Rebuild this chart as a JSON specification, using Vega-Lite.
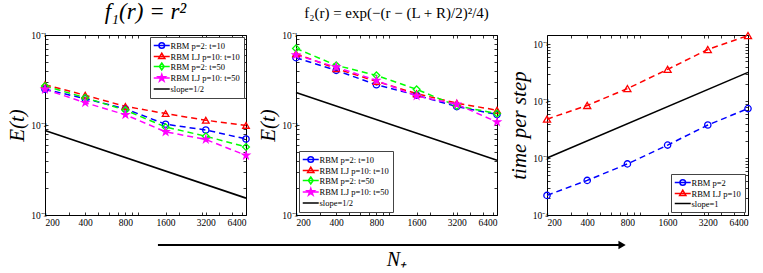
{
  "$schema": "https://vega.github.io/schema/vega-lite/v6.json",
  "padding": {"left": 6, "top": 0, "right": 0, "bottom": 0},
  "datasets": {
    "p1": [
      {"series": "RBM p=2: t=10", "N": 200, "E": 0.025}, {"series": "RBM p=2: t=10", "N": 400, "E": 0.0196}, {"series": "RBM p=2: t=10", "N": 800, "E": 0.0151}, {"series": "RBM p=2: t=10", "N": 1600, "E": 0.0102}, {"series": "RBM p=2: t=10", "N": 3200, "E": 0.0088}, {"series": "RBM p=2: t=10", "N": 6400, "E": 0.007},
      {"series": "RBM LJ p=10: t=10", "N": 200, "E": 0.028}, {"series": "RBM LJ p=10: t=10", "N": 400, "E": 0.0214}, {"series": "RBM LJ p=10: t=10", "N": 800, "E": 0.0161}, {"series": "RBM LJ p=10: t=10", "N": 1600, "E": 0.0134}, {"series": "RBM LJ p=10: t=10", "N": 3200, "E": 0.0113}, {"series": "RBM LJ p=10: t=10", "N": 6400, "E": 0.0099},
      {"series": "RBM p=2: t=50", "N": 200, "E": 0.0271}, {"series": "RBM p=2: t=50", "N": 400, "E": 0.0201}, {"series": "RBM p=2: t=50", "N": 800, "E": 0.0146}, {"series": "RBM p=2: t=50", "N": 1600, "E": 0.0095}, {"series": "RBM p=2: t=50", "N": 3200, "E": 0.0075}, {"series": "RBM p=2: t=50", "N": 6400, "E": 0.0057},
      {"series": "RBM LJ p=10: t=50", "N": 200, "E": 0.0249}, {"series": "RBM LJ p=10: t=50", "N": 400, "E": 0.0177}, {"series": "RBM LJ p=10: t=50", "N": 800, "E": 0.013}, {"series": "RBM LJ p=10: t=50", "N": 1600, "E": 0.0084}, {"series": "RBM LJ p=10: t=50", "N": 3200, "E": 0.0069}, {"series": "RBM LJ p=10: t=50", "N": 6400, "E": 0.0046},
      {"series": "slope=1/2", "N": 200, "E": 0.0087}, {"series": "slope=1/2", "N": 6400, "E": 0.00154}
    ],
    "p2": [
      {"series": "RBM p=2: t=10", "N": 200, "E": 0.056}, {"series": "RBM p=2: t=10", "N": 400, "E": 0.0405}, {"series": "RBM p=2: t=10", "N": 800, "E": 0.028}, {"series": "RBM p=2: t=10", "N": 1600, "E": 0.0214}, {"series": "RBM p=2: t=10", "N": 3200, "E": 0.016}, {"series": "RBM p=2: t=10", "N": 6400, "E": 0.0131},
      {"series": "RBM LJ p=10: t=10", "N": 200, "E": 0.062}, {"series": "RBM LJ p=10: t=10", "N": 400, "E": 0.0423}, {"series": "RBM LJ p=10: t=10", "N": 800, "E": 0.0305}, {"series": "RBM LJ p=10: t=10", "N": 1600, "E": 0.0223}, {"series": "RBM LJ p=10: t=10", "N": 3200, "E": 0.0175}, {"series": "RBM LJ p=10: t=10", "N": 6400, "E": 0.0146},
      {"series": "RBM p=2: t=50", "N": 200, "E": 0.071}, {"series": "RBM p=2: t=50", "N": 400, "E": 0.046}, {"series": "RBM p=2: t=50", "N": 800, "E": 0.0356}, {"series": "RBM p=2: t=50", "N": 1600, "E": 0.0249}, {"series": "RBM p=2: t=50", "N": 3200, "E": 0.0163}, {"series": "RBM p=2: t=50", "N": 6400, "E": 0.0134},
      {"series": "RBM LJ p=10: t=50", "N": 200, "E": 0.06}, {"series": "RBM LJ p=10: t=50", "N": 400, "E": 0.044}, {"series": "RBM LJ p=10: t=50", "N": 800, "E": 0.0313}, {"series": "RBM LJ p=10: t=50", "N": 1600, "E": 0.021}, {"series": "RBM LJ p=10: t=50", "N": 3200, "E": 0.017}, {"series": "RBM LJ p=10: t=50", "N": 6400, "E": 0.0108},
      {"series": "slope=1/2", "N": 200, "E": 0.023}, {"series": "slope=1/2", "N": 6400, "E": 0.00405}
    ],
    "p3": [
      {"series": "RBM p=2", "N": 200, "E": 0.000221}, {"series": "RBM p=2", "N": 400, "E": 0.000405}, {"series": "RBM p=2", "N": 800, "E": 0.00079}, {"series": "RBM p=2", "N": 1600, "E": 0.00169}, {"series": "RBM p=2", "N": 3200, "E": 0.0038}, {"series": "RBM p=2", "N": 6400, "E": 0.0074},
      {"series": "RBM LJ p=10", "N": 200, "E": 0.00483}, {"series": "RBM LJ p=10", "N": 400, "E": 0.0084}, {"series": "RBM LJ p=10", "N": 800, "E": 0.0166}, {"series": "RBM LJ p=10", "N": 1600, "E": 0.0361}, {"series": "RBM LJ p=10", "N": 3200, "E": 0.0807}, {"series": "RBM LJ p=10", "N": 6400, "E": 0.142},
      {"series": "slope=1", "N": 200, "E": 0.001}, {"series": "slope=1", "N": 6400, "E": 0.032}
    ]
  },
  "hconcat": [
    {
      "width": 201, "height": 180,
      "title": {"text": "f₁(r) = r²", "font": "Liberation Serif", "fontStyle": "italic", "fontWeight": "normal", "fontSize": 23, "offset": 6, "anchor": "middle", "frame": "group", "color": "black"},
      "data": {"name": "p1"},
      "resolve": {"axis": {"x": "independent", "y": "independent"}},
      "layer": [
        {
          "transform": [{"filter": "datum.series != 'slope=1/2'"}],
          "mark": {"type": "line", "strokeWidth": 1.5, "strokeDash": [6, 4]},
          "encoding": {
            "x": {"field": "N", "type": "quantitative", "scale": {"type": "log", "domain": [200, 6400], "nice": false}, "axis": {"orient": "bottom", "title": null, "labelPadding": 5, "values": [200, 300, 400, 500, 600, 700, 800, 900, 1000, 1600, 2000, 3000, 3200, 4000, 5000, 6000, 6400], "labelExpr": "indexof([200,400,800,1600,3200,6400], datum.value) >= 0 ? format(datum.value, 'd') : ''"}},
            "y": {"field": "E", "type": "quantitative", "scale": {"type": "log", "domain": [0.001, 0.1], "nice": false}, "axis": {"orient": "left", "title": "E(t)", "titlePadding": 3, "values": [0.001, 0.002, 0.003, 0.004, 0.005, 0.006, 0.007, 0.008, 0.009, 0.01, 0.02, 0.03, 0.04, 0.05, 0.06, 0.07, 0.08, 0.09, 0.1], "labelExpr": "datum.value == 0.1 ? '10⁻¹' : datum.value == 0.01 ? '10⁻²' : datum.value == 0.001 ? '10⁻³' : ''"}},
            "color": {"field": "series", "type": "nominal", "scale": {"domain": ["RBM p=2: t=10", "RBM LJ p=10: t=10", "RBM p=2: t=50", "RBM LJ p=10: t=50", "slope=1/2"], "range": ["#0000ff", "#ff0000", "#00ff00", "#ff00ff", "#000000"]},
              "legend": {"title": null, "orient": "top-right", "offset": 2,
                "encode": {"symbols": {"update": {
                  "shape": {"signal": "['M-1.36,0L3.21,0M1.729,0A0.8,0.8,0,1,1,0.129,0A0.8,0.8,0,1,1,1.729,0Z', 'M-1.36,0L3.21,0M0.929,-0.95L1.829,0.6L0.029,0.6Z', 'M-1.36,0L3.21,0M0.929,-1L1.629,0L0.929,1L0.229,0Z', 'M-1.36,0L3.21,0M0.929,-1.05L1.164,-0.324L1.928,-0.324L1.309,0.124L1.546,0.849L0.929,0.4L0.312,0.849L0.549,0.124L-0.07,-0.324L0.694,-0.324Z', 'M-1.36,0L3.21,0'][datum.index]"},
                  "fill": {"signal": "datum.index == 3 ? '#ff00ff' : 'transparent'"},
                  "strokeWidth": {"value": 1.5},
                  "strokeDash": {"value": []}
                }}}}}
          }
        },
        {
          "transform": [{"filter": "datum.series != 'slope=1/2'"}],
          "mark": {"type": "point", "filled": false, "strokeWidth": 1.3, "opacity": 1},
          "encoding": {
            "x": {"field": "N", "type": "quantitative", "axis": null},
            "y": {"field": "E", "type": "quantitative", "axis": null},
            "color": {"field": "series", "type": "nominal"},
            "shape": {"field": "series", "type": "nominal", "scale": {"domain": ["RBM p=2: t=10", "RBM LJ p=10: t=10", "RBM p=2: t=50", "RBM LJ p=10: t=50"], "range": ["circle", "triangle-up", "diamond", "M0,-1L0.223,-0.307L0.951,-0.309L0.361,0.117L0.588,0.809L0,0.38L-0.588,0.809L-0.361,0.117L-0.951,-0.309L-0.223,-0.307Z"]}, "legend": null},
            "fill": {"field": "series", "type": "nominal", "scale": {"domain": ["RBM p=2: t=10", "RBM LJ p=10: t=10", "RBM p=2: t=50", "RBM LJ p=10: t=50"], "range": ["transparent", "transparent", "transparent", "#ff00ff"]}, "legend": null},
            "size": {"field": "series", "type": "nominal", "scale": {"domain": ["RBM p=2: t=10", "RBM LJ p=10: t=10", "RBM p=2: t=50", "RBM LJ p=10: t=50"], "range": [40, 50, 45, 110]}, "legend": null}
          }
        },
        {
          "transform": [{"filter": "datum.series == 'slope=1/2'"}],
          "mark": {"type": "line", "strokeWidth": 1.6},
          "encoding": {
            "x": {"field": "N", "type": "quantitative", "axis": {"orient": "top", "labels": false, "title": null, "values": [200, 300, 400, 500, 600, 700, 800, 900, 1000, 1600, 2000, 3000, 3200, 4000, 5000, 6000, 6400]}},
            "y": {"field": "E", "type": "quantitative", "axis": {"orient": "right", "labels": false, "title": null, "values": [0.001, 0.002, 0.003, 0.004, 0.005, 0.006, 0.007, 0.008, 0.009, 0.01, 0.02, 0.03, 0.04, 0.05, 0.06, 0.07, 0.08, 0.09, 0.1]}},
            "color": {"field": "series", "type": "nominal"}
          }
        }
      ]
    },
    {
      "width": 201, "height": 180,
      "title": {"text": "f₂(r) = exp(−(r − (L + R)/2)²/4)", "font": "Liberation Serif", "fontStyle": "normal", "fontWeight": "normal", "fontSize": 15, "offset": 9, "anchor": "middle", "frame": "group", "color": "black"},
      "data": {"name": "p2"},
      "resolve": {"axis": {"x": "independent", "y": "independent"}},
      "layer": [
        {
          "transform": [{"filter": "datum.series != 'slope=1/2'"}],
          "mark": {"type": "line", "strokeWidth": 1.5, "strokeDash": [6, 4]},
          "encoding": {
            "x": {"field": "N", "type": "quantitative", "scale": {"type": "log", "domain": [200, 6400], "nice": false}, "axis": {"orient": "bottom", "title": "N₊", "titleFontSize": 20, "titlePadding": 23, "labelPadding": 5, "values": [200, 300, 400, 500, 600, 700, 800, 900, 1000, 1600, 2000, 3000, 3200, 4000, 5000, 6000, 6400], "labelExpr": "indexof([200,400,800,1600,3200,6400], datum.value) >= 0 ? format(datum.value, 'd') : ''"}},
            "y": {"field": "E", "type": "quantitative", "scale": {"type": "log", "domain": [0.001, 0.1], "nice": false}, "axis": {"orient": "left", "title": "E(t)", "titlePadding": 3, "values": [0.001, 0.002, 0.003, 0.004, 0.005, 0.006, 0.007, 0.008, 0.009, 0.01, 0.02, 0.03, 0.04, 0.05, 0.06, 0.07, 0.08, 0.09, 0.1], "labelExpr": "datum.value == 0.1 ? '10⁻¹' : datum.value == 0.01 ? '10⁻²' : datum.value == 0.001 ? '10⁻³' : ''"}},
            "color": {"field": "series", "type": "nominal", "scale": {"domain": ["RBM p=2: t=10", "RBM LJ p=10: t=10", "RBM p=2: t=50", "RBM LJ p=10: t=50", "slope=1/2"], "range": ["#0000ff", "#ff0000", "#00ff00", "#ff00ff", "#000000"]},
              "legend": {"title": null, "orient": "bottom-left", "offset": 3,
                "encode": {"symbols": {"update": {
                  "shape": {"signal": "['M-1.36,0L3.21,0M1.729,0A0.8,0.8,0,1,1,0.129,0A0.8,0.8,0,1,1,1.729,0Z', 'M-1.36,0L3.21,0M0.929,-0.95L1.829,0.6L0.029,0.6Z', 'M-1.36,0L3.21,0M0.929,-1L1.629,0L0.929,1L0.229,0Z', 'M-1.36,0L3.21,0M0.929,-1.05L1.164,-0.324L1.928,-0.324L1.309,0.124L1.546,0.849L0.929,0.4L0.312,0.849L0.549,0.124L-0.07,-0.324L0.694,-0.324Z', 'M-1.36,0L3.21,0'][datum.index]"},
                  "fill": {"signal": "datum.index == 3 ? '#ff00ff' : 'transparent'"},
                  "strokeWidth": {"value": 1.5},
                  "strokeDash": {"value": []}
                }}}}}
          }
        },
        {
          "transform": [{"filter": "datum.series != 'slope=1/2'"}],
          "mark": {"type": "point", "filled": false, "strokeWidth": 1.3, "opacity": 1},
          "encoding": {
            "x": {"field": "N", "type": "quantitative", "axis": null},
            "y": {"field": "E", "type": "quantitative", "axis": null},
            "color": {"field": "series", "type": "nominal"},
            "shape": {"field": "series", "type": "nominal", "scale": {"domain": ["RBM p=2: t=10", "RBM LJ p=10: t=10", "RBM p=2: t=50", "RBM LJ p=10: t=50"], "range": ["circle", "triangle-up", "diamond", "M0,-1L0.223,-0.307L0.951,-0.309L0.361,0.117L0.588,0.809L0,0.38L-0.588,0.809L-0.361,0.117L-0.951,-0.309L-0.223,-0.307Z"]}, "legend": null},
            "fill": {"field": "series", "type": "nominal", "scale": {"domain": ["RBM p=2: t=10", "RBM LJ p=10: t=10", "RBM p=2: t=50", "RBM LJ p=10: t=50"], "range": ["transparent", "transparent", "transparent", "#ff00ff"]}, "legend": null},
            "size": {"field": "series", "type": "nominal", "scale": {"domain": ["RBM p=2: t=10", "RBM LJ p=10: t=10", "RBM p=2: t=50", "RBM LJ p=10: t=50"], "range": [40, 50, 45, 110]}, "legend": null}
          }
        },
        {
          "transform": [{"filter": "datum.series == 'slope=1/2'"}],
          "mark": {"type": "line", "strokeWidth": 1.6},
          "encoding": {
            "x": {"field": "N", "type": "quantitative", "axis": {"orient": "top", "labels": false, "title": null, "values": [200, 300, 400, 500, 600, 700, 800, 900, 1000, 1600, 2000, 3000, 3200, 4000, 5000, 6000, 6400]}},
            "y": {"field": "E", "type": "quantitative", "axis": {"orient": "right", "labels": false, "title": null, "values": [0.001, 0.002, 0.003, 0.004, 0.005, 0.006, 0.007, 0.008, 0.009, 0.01, 0.02, 0.03, 0.04, 0.05, 0.06, 0.07, 0.08, 0.09, 0.1]}},
            "color": {"field": "series", "type": "nominal"}
          }
        },
        {
          "data": {"values": [{}]},
          "mark": {"type": "rule", "strokeWidth": 2, "color": "black", "clip": false},
          "encoding": {
            "x": {"datum": 18.5, "type": "quantitative", "axis": null},
            "x2": {"datum": 54000},
            "y": {"datum": 0.000464, "type": "quantitative", "axis": null}
          }
        },
        {
          "data": {"values": [{}]},
          "mark": {"type": "point", "shape": "triangle-right", "filled": true, "color": "black", "size": 70, "opacity": 1, "clip": false},
          "encoding": {
            "x": {"datum": 55300, "type": "quantitative", "axis": null},
            "y": {"datum": 0.000464, "type": "quantitative", "axis": null}
          }
        }
      ]
    },
    {
      "width": 201, "height": 180,
      "data": {"name": "p3"},
      "resolve": {"axis": {"x": "independent", "y": "independent"}},
      "layer": [
        {
          "transform": [{"filter": "datum.series != 'slope=1'"}],
          "mark": {"type": "line", "strokeWidth": 1.5, "strokeDash": [6, 4]},
          "encoding": {
            "x": {"field": "N", "type": "quantitative", "scale": {"type": "log", "domain": [200, 6400], "nice": false}, "axis": {"orient": "bottom", "title": null, "labelPadding": 5, "values": [200, 300, 400, 500, 600, 700, 800, 900, 1000, 1600, 2000, 3000, 3200, 4000, 5000, 6000, 6400], "labelExpr": "indexof([200,400,800,1600,3200,6400], datum.value) >= 0 ? format(datum.value, 'd') : ''"}},
            "y": {"field": "E", "type": "quantitative", "scale": {"type": "log", "domain": [0.0001, 0.145], "nice": false}, "axis": {"orient": "left", "title": "time per step", "titlePadding": 3, "values": [0.0001, 0.0002, 0.0003, 0.0004, 0.0005, 0.0006, 0.0007, 0.0008, 0.0009, 0.001, 0.002, 0.003, 0.004, 0.005, 0.006, 0.007, 0.008, 0.009, 0.01, 0.02, 0.03, 0.04, 0.05, 0.06, 0.07, 0.08, 0.09, 0.1], "labelExpr": "datum.value == 0.1 ? '10⁻¹' : datum.value == 0.01 ? '10⁻²' : datum.value == 0.001 ? '10⁻³' : datum.value == 0.0001 ? '10⁻⁴' : ''"}},
            "color": {"field": "series", "type": "nominal", "scale": {"domain": ["RBM p=2", "RBM LJ p=10", "slope=1"], "range": ["#0000ff", "#ff0000", "#000000"]},
              "legend": {"title": null, "orient": "bottom-right", "offset": 3,
                "encode": {"symbols": {"update": {
                  "shape": {"signal": "['M-1.36,0L3.21,0M1.729,0A0.8,0.8,0,1,1,0.129,0A0.8,0.8,0,1,1,1.729,0Z', 'M-1.36,0L3.21,0M0.929,-0.95L1.829,0.6L0.029,0.6Z', 'M-1.36,0L3.21,0'][datum.index]"},
                  "fill": {"value": "transparent"},
                  "strokeWidth": {"value": 1.5},
                  "strokeDash": {"value": []}
                }}}}}
          }
        },
        {
          "transform": [{"filter": "datum.series != 'slope=1'"}],
          "mark": {"type": "point", "filled": false, "strokeWidth": 1.3, "opacity": 1},
          "encoding": {
            "x": {"field": "N", "type": "quantitative", "axis": null},
            "y": {"field": "E", "type": "quantitative", "axis": null},
            "color": {"field": "series", "type": "nominal"},
            "shape": {"field": "series", "type": "nominal", "scale": {"domain": ["RBM p=2", "RBM LJ p=10"], "range": ["circle", "triangle-up"]}, "legend": null},
            "size": {"field": "series", "type": "nominal", "scale": {"domain": ["RBM p=2", "RBM LJ p=10"], "range": [40, 50]}, "legend": null}
          }
        },
        {
          "transform": [{"filter": "datum.series == 'slope=1'"}],
          "mark": {"type": "line", "strokeWidth": 1.6},
          "encoding": {
            "x": {"field": "N", "type": "quantitative", "axis": {"orient": "top", "labels": false, "title": null, "values": [200, 300, 400, 500, 600, 700, 800, 900, 1000, 1600, 2000, 3000, 3200, 4000, 5000, 6000, 6400]}},
            "y": {"field": "E", "type": "quantitative", "axis": {"orient": "right", "labels": false, "title": null, "values": [0.0001, 0.0002, 0.0003, 0.0004, 0.0005, 0.0006, 0.0007, 0.0008, 0.0009, 0.001, 0.002, 0.003, 0.004, 0.005, 0.006, 0.007, 0.008, 0.009, 0.01, 0.02, 0.03, 0.04, 0.05, 0.06, 0.07, 0.08, 0.09, 0.1]}},
            "color": {"field": "series", "type": "nominal"}
          }
        }
      ]
    }
  ],
  "spacing": 50,
  "bounds": "flush",
  "resolve": {"scale": {"x": "independent", "y": "independent", "color": "independent", "shape": "independent", "fill": "independent", "size": "independent"}, "legend": {"color": "independent"}},
  "config": {
    "view": {"stroke": "black", "strokeWidth": 1},
    "axis": {"grid": false, "domain": false, "tickSize": -3, "tickColor": "black", "tickWidth": 0.8, "labelFont": "Liberation Serif", "labelFontSize": 9.5, "labelColor": "black", "labelOverlap": false, "labelPadding": 2, "titleFont": "Liberation Serif", "titleFontStyle": "italic", "titleFontWeight": "normal", "titleColor": "black", "titleFontSize": 21},
    "legend": {"labelFont": "Liberation Serif", "labelFontSize": 8.5, "labelColor": "black", "symbolSize": 49, "symbolStrokeWidth": 1.5, "labelOffset": 7.5, "rowPadding": -2.5, "padding": 4, "strokeColor": "#444", "fillColor": "white", "labelLimit": 200}
  }
}
